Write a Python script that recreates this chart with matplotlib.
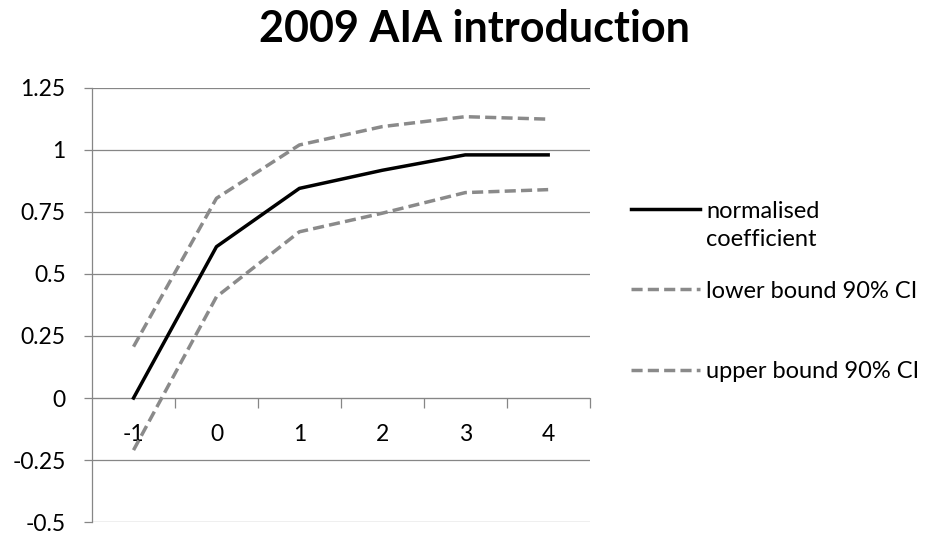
import matplotlib.pyplot as plt
from matplotlib.lines import Line2D

plt.rcParams['font.family'] = ['Lato', 'DejaVu Sans']

# event time relative to the 2009 AIA introduction
years = ['-1', '0', '1', '2', '3', '4']
coefficient = [0.0, 0.61, 0.845, 0.918, 0.98, 0.98]
lower_ci = [-0.21, 0.408, 0.67, 0.745, 0.828, 0.84]
upper_ci = [0.207, 0.805, 1.02, 1.094, 1.134, 1.124]
y_ticks = [-0.5, -0.25, 0, 0.25, 0.5, 0.75, 1, 1.25]
y_labels = ['-0.5', '-0.25', '0', '0.25', '0.5', '0.75', '1', '1.25']

grid_col = '#868686'
dash_col = '#8a8a8a'
dash_pat = (3.2, 1.5)

fig = plt.figure(figsize=(9.3, 5.36), dpi=100)
ax = fig.add_axes([0.099, 0.026, 0.535, 0.81])

x = list(range(len(years)))
line_main, = ax.plot(x, coefficient, color='black', lw=2.5, zorder=3)
line_lo, = ax.plot(x, lower_ci, color=dash_col, lw=2.5, dashes=dash_pat,
                   dash_capstyle='butt', zorder=3)
line_hi, = ax.plot(x, upper_ci, color=dash_col, lw=2.5, dashes=dash_pat,
                   dash_capstyle='butt', zorder=3)

ax.set_xlim(-0.5, len(years) - 0.5)
ax.set_ylim(-0.5, 1.25)

for yv in y_ticks:
    ax.axhline(yv, color=grid_col, lw=0.9, zorder=1)

ax.set_yticks(y_ticks)
ax.set_yticklabels(y_labels, fontsize=16.5)
ax.tick_params(axis='y', length=6, width=0.9, color=grid_col, pad=13)

# category axis sits on the zero line
ax.spines['bottom'].set_position(('data', 0))
ax.spines['bottom'].set_color(grid_col)
ax.set_xticks(x)
ax.set_xticklabels(years, fontsize=16.5)
ax.set_xticks([i + 0.5 for i in range(len(years))], minor=True)
ax.tick_params(axis='x', which='major', length=0, pad=19)
ax.tick_params(axis='x', which='minor', length=7, width=0.9, color=grid_col, direction='out')

for side in ['top', 'right']:
    ax.spines[side].set_visible(False)
ax.spines['left'].set_color(grid_col)
ax.spines['left'].set_linewidth(0.9)

fig.text(0.51, 1 - 42 / 536, '2009 AIA introduction', ha='center', va='baseline',
         fontsize=31, fontweight='bold')

# legend drawn by hand so the wrapped label keeps its handle on the first line
W, H = 930.0, 536.0
entries = [(line_main, ['normalised', 'coefficient'], 209),
           (line_lo, ['lower bound 90% CI'], 289),
           (line_hi, ['upper bound 90% CI'], 370)]
for ln, label_lines, ypx in entries:
    yf = 1 - ypx / H
    handle = Line2D([631 / W, 700 / W], [yf, yf], transform=fig.transFigure,
                    color=ln.get_color(), lw=ln.get_linewidth())
    if ln is not line_main:
        handle.set_dashes(dash_pat)
        handle.set_dash_capstyle('butt')
    fig.add_artist(handle)
    for k, txt in enumerate(label_lines):
        fig.text(706 / W, 1 - (ypx + 29 * k) / H, txt, ha='left',
                 va='center_baseline', fontsize=17)

fig.savefig('out.png', dpi=100)
